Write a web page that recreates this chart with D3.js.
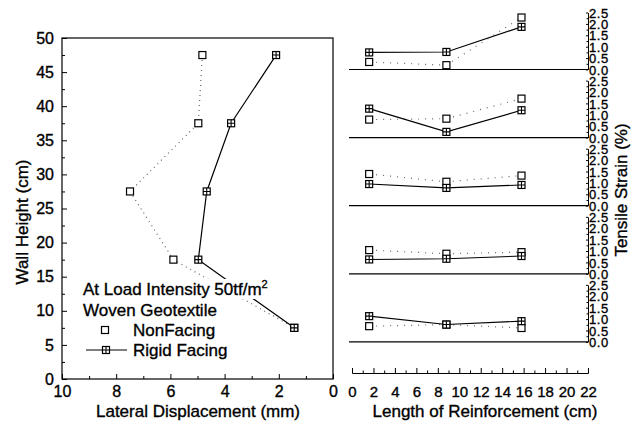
<!DOCTYPE html>
<html>
<head>
<meta charset="utf-8">
<script src="https://cdn.jsdelivr.net/npm/d3@7"></script>
<style>
  body { margin: 0; background: #fff; }
  svg { display: block; font-family: "Liberation Sans", Arial, sans-serif; }
  svg text { stroke: #000; stroke-width: 0.35; }
  .axis path, .axis line { stroke: #000; }
  .axis text { fill: #000; }
</style>
</head>
<body>
<svg id="chart"></svg>
<script>
// wall heights of the reinforcement layers (cm)
var heights = [47.5, 37.5, 27.5, 17.5, 7.5];
// lateral displacement (mm)
var dispNon = [4.82, 4.97, 7.49, 5.89, 1.43];
var dispRigid = [2.10, 3.76, 4.66, 4.97, 1.43];

// positions along the reinforcement (cm)
var lengths = [1.6, 8.8, 15.8];
// tensile strain (%) per layer, top layer first
var strainNon = [
  [0.33, 0.19, 2.28],
  [0.79, 0.83, 1.71],
  [1.39, 1.05, 1.32],
  [1.04, 0.88, 0.95],
  [0.69, 0.76, 0.61]
];
var strainRigid = [
  [0.75, 0.77, 1.87],
  [1.27, 0.25, 1.20],
  [0.95, 0.78, 0.91],
  [0.63, 0.66, 0.78],
  [1.13, 0.76, 0.91]
];

var dispTicks = [10, 8, 6, 4, 2, 0];
var heightTicks = [0, 5, 10, 15, 20, 25, 30, 35, 40, 45, 50];
var lengthTicks = [0, 2, 4, 6, 8, 10, 12, 14, 16, 18, 20, 22];
var strainTicks = [0, 0.5, 1, 1.5, 2, 2.5];

var screen = { width: 638, height: 425 };

var svg = d3.select('#chart')
  .attr('width', screen.width)
  .attr('height', screen.height);

// ---------- left panel ----------
var xL = d3.scaleLinear().domain([10, 0]).range([62, 333]);
var yL = d3.scaleLinear().domain([0, 50]).range([379, 38]);

// frame
svg.append('rect')
  .attr('x', xL(10)).attr('y', yL(50))
  .attr('width', xL(0) - xL(10)).attr('height', yL(0) - yL(50))
  .attr('fill', 'none').attr('stroke', '#000').attr('stroke-width', 1.2);

// minor ticks
svg.append('g').attr('class', 'axis')
  .attr('transform', 'translate(0,' + yL(0) + ')')
  .call(d3.axisBottom(xL).tickValues(d3.range(1, 10, 2)).tickSize(-3).tickFormat(''))
  .select('.domain').remove();
svg.append('g').attr('class', 'axis')
  .attr('transform', 'translate(' + xL(10) + ',0)')
  .call(d3.axisLeft(yL).tickValues(d3.range(2.5, 50, 5)).tickSize(-3).tickFormat(''))
  .select('.domain').remove();

var xAxisL = svg.append('g').attr('class', 'axis')
  .attr('transform', 'translate(0,' + yL(0) + ')')
  .call(d3.axisBottom(xL).tickValues(dispTicks).tickSizeInner(-5).tickSizeOuter(0).tickPadding(7));
xAxisL.select('.domain').remove();
xAxisL.selectAll('text').attr('font-size', 16);

var yAxisL = svg.append('g').attr('class', 'axis')
  .attr('transform', 'translate(' + xL(10) + ',0)')
  .call(d3.axisLeft(yL).tickValues(heightTicks).tickSizeInner(-5).tickSizeOuter(0).tickPadding(8));
yAxisL.select('.domain').remove();
yAxisL.selectAll('text').attr('font-size', 16);

svg.append('text')
  .attr('x', 198).attr('y', 417)
  .attr('text-anchor', 'middle').attr('font-size', 17)
  .text('Lateral Displacement (mm)');

svg.append('text')
  .attr('transform', 'translate(22,222) rotate(-90)')
  .attr('text-anchor', 'middle').attr('dominant-baseline', 'central').attr('font-size', 17)
  .text('Wall Height (cm)');

var lineL = function(xs) {
  return d3.line()
    .x(function(d, i) { return xL(xs[i]); })
    .y(function(d) { return yL(d); })(heights);
};

svg.append('path').attr('d', lineL(dispNon))
  .attr('fill', 'none').attr('stroke', '#666').attr('stroke-width', 1.2)
  .attr('stroke-dasharray', '1,4');
svg.append('path').attr('d', lineL(dispRigid))
  .attr('fill', 'none').attr('stroke', '#000').attr('stroke-width', 1.2);

var squareMark = function(g, x, y) {
  g.append('rect').attr('x', x - 3.5).attr('y', y - 3.5).attr('width', 7).attr('height', 7)
    .attr('fill', '#fff').attr('stroke', '#000').attr('stroke-width', 1.2);
};
var plusMark = function(g, x, y) {
  g.append('rect').attr('x', x - 3.5).attr('y', y - 3.5).attr('width', 7).attr('height', 7)
    .attr('fill', '#fff').attr('stroke', '#000').attr('stroke-width', 1.2);
  g.append('path').attr('d', 'M' + (x - 3.5) + ',' + y + 'H' + (x + 3.5) + 'M' + x + ',' + (y - 3.5) + 'V' + (y + 3.5))
    .attr('stroke', '#000').attr('stroke-width', 1.1);
};

heights.forEach(function(h, i) {
  squareMark(svg, xL(dispNon[i]), yL(h));
});
heights.forEach(function(h, i) {
  plusMark(svg, xL(dispRigid[i]), yL(h));
});

// legend: the two title lines sit on white boxes that hide the curves
var legend = svg.append('g').attr('font-size', 17);
var maskG = legend.append('g');
var t1 = legend.append('text').attr('x', 83).attr('y', 295)
  .text('At Load Intensity 50tf/m');
t1.append('tspan').attr('font-size', 11).attr('dy', -7).text('2');
var t2 = legend.append('text').attr('x', 83).attr('y', 316)
  .text('Woven Geotextile');
[t1, t2].forEach(function(t) {
  var b = t.node().getBBox();
  maskG.append('rect').attr('x', b.x - 1).attr('y', b.y + 1)
    .attr('width', b.width + 3).attr('height', b.height - 1).attr('fill', '#fff');
});
squareMark(legend, 105, 330);
legend.append('text').attr('x', 133).attr('y', 336).text('NonFacing');
legend.append('line').attr('x1', 86).attr('x2', 127).attr('y1', 350).attr('y2', 350)
  .attr('stroke', '#000').attr('stroke-width', 1.2);
plusMark(legend, 106, 350);
legend.append('text').attr('x', 133).attr('y', 356).text('Rigid Facing');

// ---------- right panel ----------
var xR = d3.scaleLinear().domain([0, 22]).range([352, 588]);
var baseTop = 69.5, step = 68.1, span = 57;

strainNon.forEach(function(row, k) {
  var base = baseTop + step * k;
  var yR = d3.scaleLinear().domain([0, 2.5]).range([base, base - span]);

  svg.append('line')
    .attr('x1', xR(0) - 3).attr('x2', xR(22)).attr('y1', base).attr('y2', base)
    .attr('stroke', '#000').attr('stroke-width', 1.2);

  var ax = svg.append('g').attr('class', 'axis')
    .attr('transform', 'translate(' + xR(22) + ',0)')
    .call(d3.axisRight(yR).tickValues(strainTicks).tickFormat(d3.format('.1f'))
      .tickSizeInner(-2).tickSizeOuter(0).tickPadding(1));
  ax.selectAll('text').attr('font-size', 13).attr('letter-spacing', 0.6).attr('dy', '0.36em');
  svg.append('g').attr('class', 'axis')
    .attr('transform', 'translate(' + xR(22) + ',0)')
    .call(d3.axisRight(yR).tickValues(d3.range(0.25, 2.5, 0.5)).tickSize(-1.5).tickFormat(''))
    .select('.domain').remove();

  var ln = d3.line()
    .x(function(d, i) { return xR(lengths[i]); })
    .y(function(d) { return yR(d); });

  svg.append('path').attr('d', ln(row))
    .attr('fill', 'none').attr('stroke', '#666').attr('stroke-width', 1.2)
    .attr('stroke-dasharray', '1,6');
  svg.append('path').attr('d', ln(strainRigid[k]))
    .attr('fill', 'none').attr('stroke', '#000').attr('stroke-width', 1.1);

  row.forEach(function(v, i) { squareMark(svg, xR(lengths[i]), yR(v)); });
  strainRigid[k].forEach(function(v, i) { plusMark(svg, xR(lengths[i]), yR(v)); });
});

var xAxisR = svg.append('g').attr('class', 'axis')
  .attr('transform', 'translate(0,373)')
  .call(d3.axisBottom(xR).tickValues(lengthTicks).tickSizeInner(-5).tickSizeOuter(-5).tickPadding(13));
xAxisR.selectAll('text').attr('font-size', 15);
svg.append('g').attr('class', 'axis')
  .attr('transform', 'translate(0,373)')
  .call(d3.axisBottom(xR).tickValues(d3.range(1, 22, 2)).tickSize(-2.5).tickFormat(''))
  .select('.domain').remove();

svg.append('text')
  .attr('x', 485).attr('y', 417)
  .attr('text-anchor', 'middle').attr('font-size', 17)
  .text('Length of Reinforcement (cm)');

svg.append('text')
  .attr('transform', 'translate(621,190) rotate(-90)')
  .attr('text-anchor', 'middle').attr('dominant-baseline', 'central').attr('font-size', 17)
  .text('Tensile Strain (%)');
</script>
</body>
</html>
